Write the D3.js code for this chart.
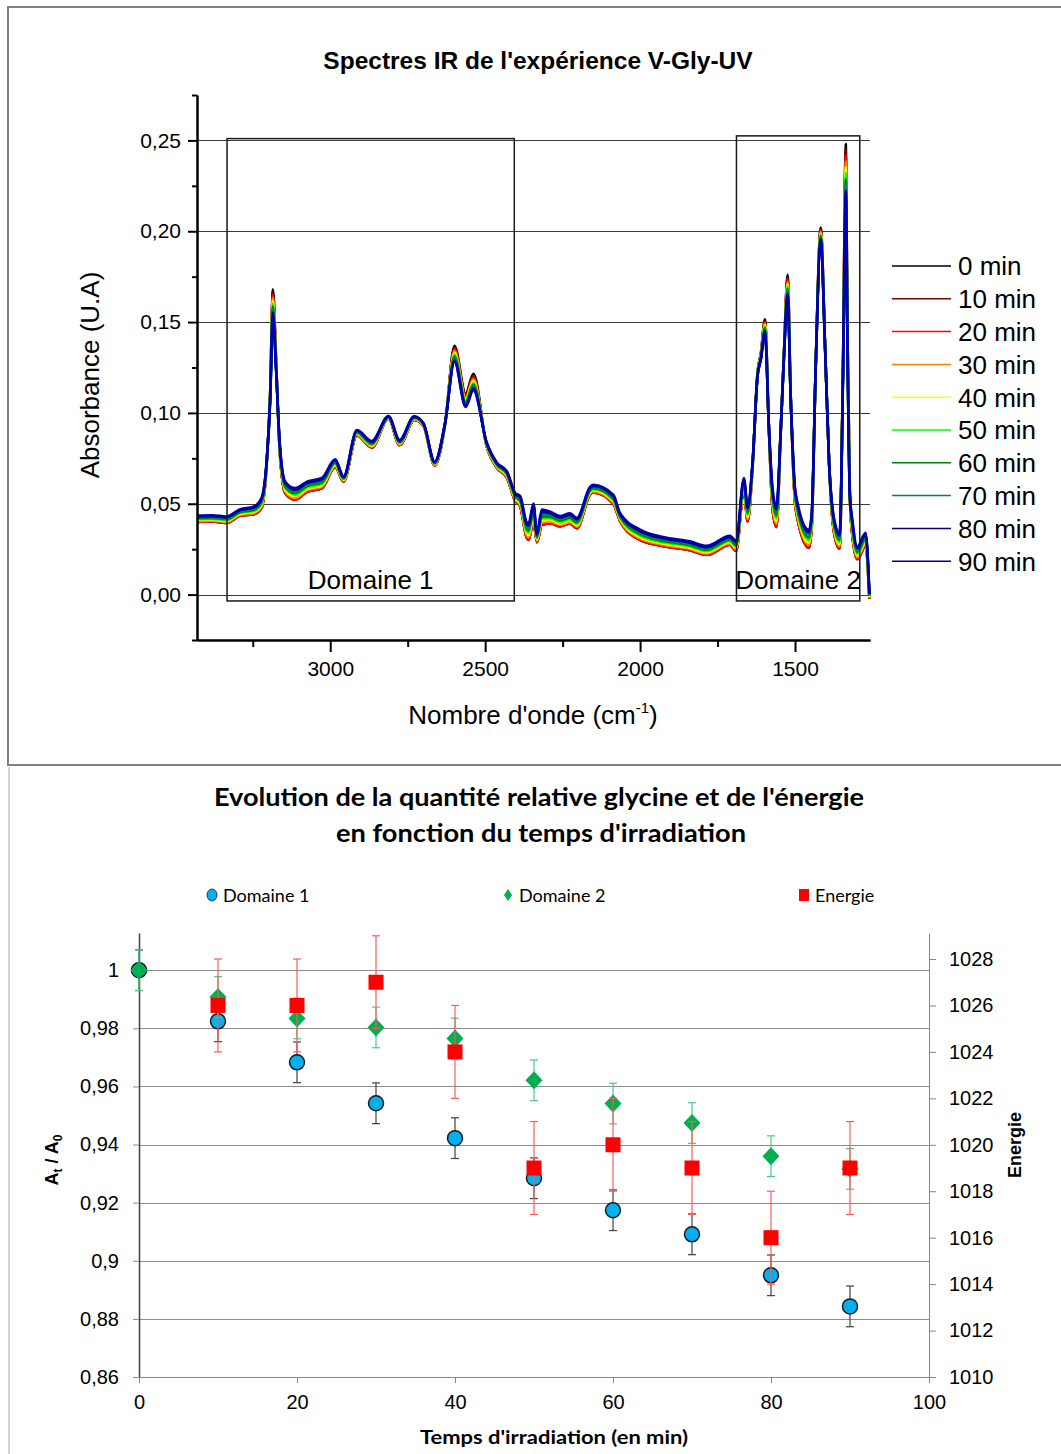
<!DOCTYPE html>
<html>
<head>
<meta charset="utf-8">
<script src="https://cdn.jsdelivr.net/npm/d3@7"></script>
<style>
  body { margin: 0; background: #fff; }
  svg { display: block; }
</style>
</head>
<body>
<div id="chart"></div>
<script>
// ---------- top chart : IR spectra ----------
const wavenumbers = [3430,3380,3335,3290,3248,3222,3205,3194,3185,3175,3163,3145,3113,3075,3027,2984,2957,2914,2866,2812,
  2776,2729,2699,2663,2629,2599,2563,2538,2495,2462,2430,2403,2387,2366,2360,2344,2333,2317,2290,2258,
  2226,2204,2161,2151,2086,2065,2000,1914,1839,1785,1710,1690,1665,1653,1637,1621,1610,1597,1584,1573,
  1560,1546,1535,1524,1514,1498,1455,1446,1433,1417,1403,1390,1374,1356,1345,1336,1331,1323,1315,1299,1272,1260]

// absorbance, in units of 1e-4
const abs0min = [400,402,395,435,442,476,724,1100,1680,1300,792,558,523,566,586,702,623,878,810,969,823,961,929,711,942,1370,1105,1215,816,698,645,517,486,314,301,403,289,384,393,376,391,366,552,562,499,407,301,264,244,219,274,241,578,404,706,1220,1330,1515,902,482,372,902,1360,1760,1100,474,258,380,1270,2020,1370,722,342,254,1280,2480,1470,542,329,195,270,-22]
const abs10min = [400,402,395,435,442,476,724,1096,1664,1294,792,558,523,566,586,702,623,878,810,969,823,961,929,711,942,1360,1097,1205,816,698,645,517,486,314,301,403,289,384,393,376,391,366,552,562,499,407,301,264,244,219,274,241,578,404,706,1218,1326,1507,902,482,372,902,1357,1747,1098,474,258,380,1270,2012,1369,722,342,254,1273,2448,1464,542,329,195,270,-22]
const abs20min = [400,402,395,435,442,476,724,1092,1648,1288,792,558,523,566,586,702,623,878,810,969,823,961,929,711,942,1350,1089,1195,816,698,645,517,486,314,301,403,289,384,393,376,391,366,552,562,499,407,301,264,244,219,274,241,578,404,706,1216,1322,1499,902,482,372,902,1354,1734,1096,474,258,380,1270,2004,1368,722,342,254,1266,2416,1458,542,329,195,270,-22]
const abs30min = [405,407,400,440,448,484,726,1088,1632,1282,798,567,532,574,594,708,627,882,815,971,827,964,931,714,943,1340,1081,1185,819,702,650,523,494,326,314,417,296,396,402,384,399,374,558,568,506,413,309,271,251,226,281,249,587,416,709,1214,1318,1491,903,498,388,903,1351,1721,1094,486,272,390,1270,1996,1367,723,353,266,1259,2384,1452,543,341,205,280,-18]
const abs40min = [410,412,405,445,454,492,728,1084,1616,1276,804,576,541,582,602,714,631,886,820,973,831,967,933,717,944,1330,1073,1175,822,706,655,529,502,338,327,431,303,408,411,392,407,382,564,574,513,419,317,278,258,233,288,257,596,428,712,1212,1314,1483,904,514,404,904,1348,1708,1092,498,286,400,1270,1988,1366,724,364,278,1252,2352,1446,544,353,215,290,-14]
const abs50min = [415,417,410,450,460,500,730,1080,1600,1270,810,585,550,590,610,720,635,890,825,975,835,970,935,720,945,1320,1065,1165,825,710,660,535,510,350,340,445,310,420,420,400,415,390,570,580,520,425,325,285,265,240,295,265,605,440,715,1210,1310,1475,905,530,420,905,1345,1695,1090,510,300,410,1270,1980,1365,725,375,290,1245,2320,1440,545,365,225,300,-10]
const abs60min = [420,422,415,455,466,508,732,1076,1584,1264,816,594,559,598,618,726,639,894,830,977,839,973,937,723,946,1310,1057,1155,828,714,665,541,518,362,353,459,317,432,429,408,423,398,576,586,527,431,333,292,272,247,302,273,614,452,718,1208,1306,1467,906,546,436,906,1342,1682,1088,522,314,420,1270,1972,1364,726,386,302,1238,2288,1434,546,377,235,310,-6]
const abs70min = [425,427,420,460,472,516,734,1072,1568,1258,822,603,568,606,626,732,643,898,835,979,843,976,939,726,947,1300,1049,1145,831,718,670,547,526,374,366,473,324,444,438,416,431,406,582,592,534,437,341,299,279,254,309,281,623,464,721,1206,1302,1459,907,562,452,907,1339,1669,1086,534,328,430,1270,1964,1363,727,397,314,1231,2256,1428,547,389,245,320,-2]
const abs80min = [430,432,425,465,478,524,736,1068,1552,1252,828,612,577,614,634,738,647,902,840,981,847,979,941,729,948,1290,1041,1135,834,722,675,553,534,386,379,487,331,456,447,424,439,414,588,598,541,443,349,306,286,261,316,289,632,476,724,1204,1298,1451,908,578,468,908,1336,1656,1084,546,342,440,1270,1956,1362,728,408,326,1224,2224,1422,548,401,255,330,2]
const abs90min = [435,437,430,470,484,532,738,1064,1536,1246,834,621,586,622,642,744,651,906,845,983,851,982,943,732,949,1280,1033,1125,837,726,680,559,542,398,392,501,338,468,456,432,447,422,594,604,548,449,357,313,293,268,323,297,641,488,727,1202,1294,1443,909,594,484,909,1333,1643,1082,558,356,450,1270,1948,1361,729,419,338,1217,2192,1416,549,413,265,340,6]

const spectraLabels = ["0 min","10 min","20 min","30 min","40 min","50 min","60 min","70 min","80 min","90 min"]
const spectraColors = ["#000000","#800000","#ff0000","#ff8000","#ffff00","#00ff00","#008000","#008080","#000080","#0000b0"]
const absMajorTicks = [0, 0.05, 0.10, 0.15, 0.20, 0.25]
const absMinorTicks = [-0.025, 0.025, 0.075, 0.125, 0.175, 0.225, 0.275]
const waveMajorTicks = [3000, 2500, 2000, 1500]
const waveMinorTicks = [3250, 2750, 2250, 1750]
// annotation boxes: [wavenumber from, wavenumber to, absorbance low, absorbance high]
const domaine1Box = [3333, 2406, -0.0035, 0.251]
const domaine2Box = [1689, 1291, -0.0035, 0.2525]

// ---------- bottom chart : relative amount & energy ----------
const times = [0, 10, 20, 30, 40, 50, 60, 70, 80, 90]
const domaine1 = [1, 0.9824, 0.9683, 0.9542, 0.9422, 0.9284, 0.9174, 0.9091, 0.895, 0.8843]
const domaine1Err = [0.007, 0.007, 0.007, 0.007, 0.007, 0.007, 0.007, 0.007, 0.007, 0.007]
const domaine2 = [1, 0.9908, 0.9834, 0.9803, 0.9765, 0.9621, 0.9541, 0.9474, 0.936, 0.9316]
const domaine2Err = [0.007, 0.007, 0.007, 0.007, 0.007, 0.007, 0.007, 0.007, 0.007, 0.007]
const energieTimes = [10, 20, 30, 40, 50, 60, 70, 80, 90]
const energie = [1026, 1026, 1027, 1024, 1019, 1020, 1019, 1016, 1019]
const energieErr = [2, 2, 2, 2, 2, 2, 2, 2, 2]
const ratioTicks = [0.86, 0.88, 0.9, 0.92, 0.94, 0.96, 0.98, 1]
const energieTicks = [1010, 1012, 1014, 1016, 1018, 1020, 1022, 1024, 1026, 1028]
const timeTicks = [0, 20, 40, 60, 80, 100]

const arial = "'Liberation Sans', Arial, sans-serif"
const calibri = "Lato, 'Open Sans', sans-serif"

const svg = d3.select("#chart").append("svg")
    .attr("width", 1061)
    .attr("height", 1454)

// frames
svg.append("rect")
    .attr("x", 8).attr("y", 7).attr("width", 1062).attr("height", 758)
    .attr("fill", "none").attr("stroke", "#808080").attr("stroke-width", 2)
svg.append("line")
    .attr("x1", 9).attr("x2", 9).attr("y1", 767).attr("y2", 1454)
    .attr("stroke", "#a6a6a6").attr("stroke-width", 1)

// ================= top chart =================
const x = d3.scaleLinear().domain([3430, 1258]).range([197, 870])
const y = d3.scaleLinear().domain([-0.025, 0.275]).range([640, 95])
const spec = svg.append("g").style("font-family", arial)

spec.append("text")
    .attr("x", 538).attr("y", 69)
    .attr("text-anchor", "middle")
    .attr("font-size", 24.5).attr("font-weight", "bold")
    .text("Spectres IR de l'expérience V-Gly-UV")

// gridlines
spec.selectAll("line.grid")
    .data(absMajorTicks)
    .enter().append("line")
    .attr("class", "grid")
    .attr("x1", 197).attr("x2", 870)
    .attr("y1", d => Math.round(y(d)) + 0.5).attr("y2", d => Math.round(y(d)) + 0.5)
    .attr("stroke", "#3c3c3c").attr("stroke-width", 1)

// spectra, 0 min first so 90 min ends on top
const allSpectra = [abs0min, abs10min, abs20min, abs30min, abs40min, abs50min, abs60min, abs70min, abs80min, abs90min]
const spectrumLine = d3.line()
    .x((d, i) => x(wavenumbers[i]))
    .y(d => y(d / 1e4))
    .curve(d3.curveMonotoneX)

spec.selectAll("path.spectrum")
    .data(allSpectra)
    .enter().append("path")
    .attr("class", "spectrum")
    .attr("d", spectrumLine)
    .attr("fill", "none")
    .attr("stroke", (d, i) => spectraColors[i])
    .attr("stroke-width", 2.6)
    .attr("stroke-linejoin", "round")

// domain boxes
const boxes = [domaine1Box, domaine2Box]
spec.selectAll("rect.box")
    .data(boxes)
    .enter().append("rect")
    .attr("class", "box")
    .attr("x", d => x(d[0])).attr("width", d => x(d[1]) - x(d[0]))
    .attr("y", d => y(d[3])).attr("height", d => y(d[2]) - y(d[3]))
    .attr("fill", "none").attr("stroke", "#1a1a1a").attr("stroke-width", 1.5)

spec.selectAll("text.boxlabel")
    .data(["Domaine 1", "Domaine 2"])
    .enter().append("text")
    .attr("class", "boxlabel")
    .attr("x", (d, i) => (x(boxes[i][0]) + x(boxes[i][1])) / 2)
    .attr("y", (d, i) => y(boxes[i][2]) - 12)
    .attr("text-anchor", "middle")
    .attr("font-size", 26)
    .text(d => d)

// axes
const fmtAbs = d => d3.format(".2f")(d).replace(".", ",")
spec.append("g")
    .attr("transform", "translate(197,0)")
    .call(d3.axisLeft(y).tickValues(absMajorTicks).tickSize(9).tickSizeOuter(0).tickPadding(7).tickFormat(fmtAbs))
spec.append("g")
    .attr("transform", "translate(197,0)")
    .call(d3.axisLeft(y).tickValues(absMinorTicks).tickSize(5).tickSizeOuter(0).tickFormat(""))

spec.append("g")
    .attr("transform", "translate(0,640)")
    .call(d3.axisBottom(x).tickValues(waveMajorTicks).tickSize(12).tickSizeOuter(0).tickPadding(9).tickFormat(d3.format("d")))
spec.append("g")
    .attr("transform", "translate(0,640)")
    .call(d3.axisBottom(x).tickValues(waveMinorTicks).tickSize(7).tickSizeOuter(0).tickFormat(""))

spec.selectAll(".domain, .tick line").attr("stroke", "#000").attr("stroke-width", 2)
spec.selectAll(".tick text").attr("font-family", arial).attr("font-size", 21).attr("fill", "#000")

spec.append("text")
    .attr("transform", "translate(99,375) rotate(-90)")
    .attr("text-anchor", "middle")
    .attr("font-size", 26)
    .text("Absorbance (U.A)")

const xLabel = spec.append("text")
    .attr("x", 533).attr("y", 724)
    .attr("text-anchor", "middle")
    .attr("font-size", 26)
xLabel.append("tspan").text("Nombre d'onde (cm")
xLabel.append("tspan").attr("font-size", 15).attr("dy", -11).text("-1")
xLabel.append("tspan").attr("dy", 11).text(")")

// legend
const legend = spec.selectAll("g.legend")
    .data(spectraLabels)
    .enter().append("g")
    .attr("class", "legend")
    .attr("transform", (d, i) => `translate(892,${266 + i * 32.8})`)
legend.append("line")
    .attr("x1", 0).attr("x2", 59)
    .attr("stroke", (d, i) => spectraColors[i])
    .attr("stroke-width", 1.5)
legend.append("text")
    .attr("x", 66).attr("dy", "0.36em")
    .attr("font-size", 26)
    .text(d => d)

// ================= bottom chart =================
const xb = d3.scaleLinear().domain([0, 100]).range([139, 929])
const yl = d3.scaleLinear().domain([0.86, 1.0128]).range([1377, 933])
const yr = d3.scaleLinear().domain([1010, 1029.12]).range([1377, 933])
const evo = svg.append("g")

evo.append("text")
    .attr("x", 539).attr("y", 806)
    .attr("text-anchor", "middle")
    .attr("font-family", calibri).attr("font-weight", "bold").attr("font-size", 25)
    .attr("textLength", 650).attr("lengthAdjust", "spacingAndGlyphs")
    .text("Evolution de la quantité relative glycine et de l'énergie")
evo.append("text")
    .attr("x", 541).attr("y", 842)
    .attr("text-anchor", "middle")
    .attr("font-family", calibri).attr("font-weight", "bold").attr("font-size", 25)
    .attr("textLength", 410).attr("lengthAdjust", "spacingAndGlyphs")
    .text("en fonction du temps d'irradiation")

// gridlines
evo.selectAll("line.grid")
    .data(ratioTicks)
    .enter().append("line")
    .attr("x1", 139).attr("x2", 929)
    .attr("y1", d => Math.round(yl(d)) + 0.5).attr("y2", d => Math.round(yl(d)) + 0.5)
    .attr("stroke", "#8c8c8c").attr("stroke-width", 1)

// axes
const fmtRatio = d => String(+d.toFixed(2)).replace(".", ",")
const leftAxis = evo.append("g")
    .attr("transform", "translate(139,0)")
    .call(d3.axisLeft(yl).tickValues(ratioTicks).tickSize(6).tickSizeOuter(0).tickPadding(14).tickFormat(fmtRatio))
leftAxis.select(".domain").attr("stroke", "#404040").attr("stroke-width", 1.5)
leftAxis.selectAll(".tick line").attr("stroke", "#8c8c8c")

const rightAxis = evo.append("g")
    .attr("transform", "translate(929,0)")
    .call(d3.axisRight(yr).tickValues(energieTicks).tickSize(7).tickSizeOuter(0).tickPadding(13).tickFormat(d3.format("d")))
rightAxis.selectAll(".domain, .tick line").attr("stroke", "#868686")

const timeAxis = evo.append("g")
    .attr("transform", "translate(0,1377)")
    .call(d3.axisBottom(xb).tickValues(timeTicks).tickSize(6).tickSizeOuter(0).tickPadding(12))
timeAxis.selectAll(".domain, .tick line").attr("stroke", "#868686")

evo.selectAll(".tick text").attr("font-family", arial).attr("font-size", 20).attr("fill", "#000")

const ratioLabel = evo.append("text")
    .attr("transform", "translate(58,1160) rotate(-90)")
    .attr("text-anchor", "middle")
    .attr("font-family", arial).attr("font-weight", "bold").attr("font-size", 18)
ratioLabel.append("tspan").text("A")
ratioLabel.append("tspan").attr("font-size", 12).attr("dy", 4).text("t")
ratioLabel.append("tspan").attr("dy", -4).text(" / A")
ratioLabel.append("tspan").attr("font-size", 12).attr("dy", 4).text("0")

evo.append("text")
    .attr("transform", "translate(1021,1145) rotate(-90)")
    .attr("text-anchor", "middle")
    .attr("font-family", arial).attr("font-weight", "bold").attr("font-size", 18)
    .text("Energie")

evo.append("text")
    .attr("x", 554).attr("y", 1444)
    .attr("text-anchor", "middle")
    .attr("font-family", calibri).attr("font-weight", "bold").attr("font-size", 19)
    .attr("textLength", 268).attr("lengthAdjust", "spacingAndGlyphs")
    .text("Temps d'irradiation (en min)")

// error bars helper
function errorBars(g, xs, ys, errs, yScale, color) {
    const bars = g.append("g").selectAll("g")
        .data(xs)
        .enter().append("g")
        .attr("stroke", color).attr("stroke-width", 1.2)
    bars.append("line")
        .attr("x1", d => xb(d)).attr("x2", d => xb(d))
        .attr("y1", (d, i) => yScale(ys[i] + errs[i])).attr("y2", (d, i) => yScale(ys[i] - errs[i]))
    bars.append("line")
        .attr("x1", d => xb(d) - 4).attr("x2", d => xb(d) + 4)
        .attr("y1", (d, i) => yScale(ys[i] + errs[i])).attr("y2", (d, i) => yScale(ys[i] + errs[i]))
    bars.append("line")
        .attr("x1", d => xb(d) - 4).attr("x2", d => xb(d) + 4)
        .attr("y1", (d, i) => yScale(ys[i] - errs[i])).attr("y2", (d, i) => yScale(ys[i] - errs[i]))
}

const diamond = "M0,-9L8.5,0L0,9L-8.5,0Z"

// Domaine 1
errorBars(evo, times, domaine1, domaine1Err, yl, "#404040")
evo.append("g").selectAll("circle")
    .data(domaine1)
    .enter().append("circle")
    .attr("cx", (d, i) => xb(times[i])).attr("cy", d => yl(d))
    .attr("r", 7.5)
    .attr("fill", "#00b0f0").attr("stroke", "#1a1a1a").attr("stroke-width", 1.5)

// Domaine 2
errorBars(evo, times, domaine2, domaine2Err, yl, "#4cc985")
evo.append("g").selectAll("path")
    .data(domaine2)
    .enter().append("path")
    .attr("d", diamond)
    .attr("transform", (d, i) => `translate(${xb(times[i])},${yl(d)})`)
    .attr("fill", "#00b050")

// Energie (right axis)
errorBars(evo, energieTimes, energie, energieErr, yr, "#ff5a5a")
evo.append("g").selectAll("rect")
    .data(energie)
    .enter().append("rect")
    .attr("x", (d, i) => xb(energieTimes[i]) - 7.5).attr("y", d => yr(d) - 7.5)
    .attr("width", 15).attr("height", 15)
    .attr("fill", "#ff0000")

// legend
const legendItems = [
    { name: "Domaine 1", x: 212 },
    { name: "Domaine 2", x: 508 },
    { name: "Energie", x: 804 }
]
const bl = evo.selectAll("g.blegend")
    .data(legendItems)
    .enter().append("g")
    .attr("class", "blegend")
    .attr("transform", d => `translate(${d.x},895)`)
bl.append("text")
    .attr("x", 11).attr("y", 6.5)
    .attr("font-family", calibri).attr("font-size", 18)
    .text(d => d.name)
bl.filter((d, i) => i === 0).append("ellipse")
    .attr("rx", 5).attr("ry", 6)
    .attr("fill", "#00b0f0").attr("stroke", "#1a1a1a").attr("stroke-width", 0.8)
bl.filter((d, i) => i === 1).append("path")
    .attr("d", "M0,-6L4,0L0,6L-4,0Z").attr("fill", "#00b050")
bl.filter((d, i) => i === 2).append("rect")
    .attr("x", -5).attr("y", -6).attr("width", 10).attr("height", 12).attr("fill", "#ff0000")
</script>
</body>
</html>
